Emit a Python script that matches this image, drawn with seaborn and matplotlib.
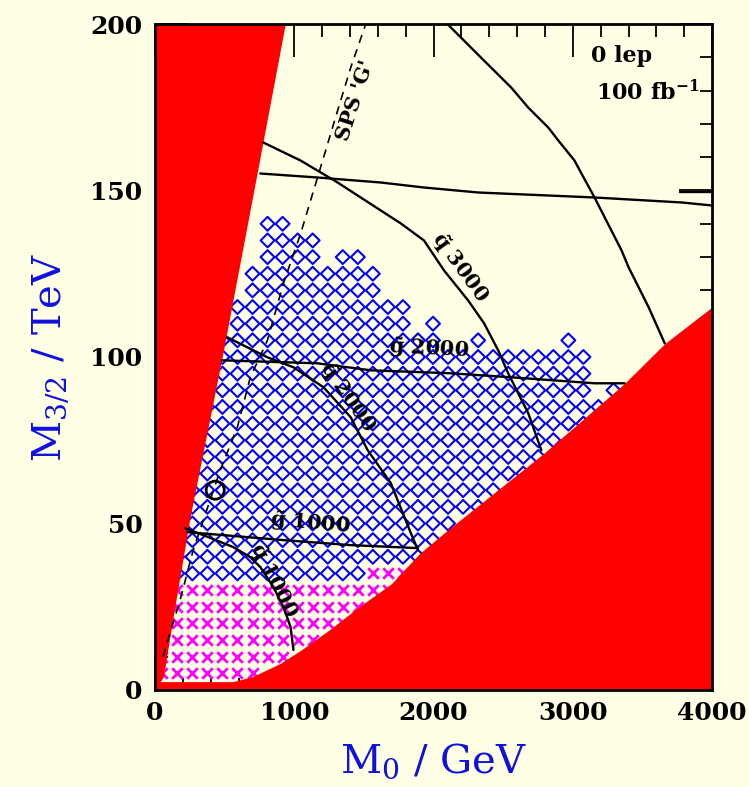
import numpy as np
import pandas as pd
import matplotlib
matplotlib.use("Agg")
import matplotlib.pyplot as plt
import seaborn as sns

# M0 values of the scan grid (GeV)
m0_grid = [52, 160, 268, 376, 484, 592, 700, 808, 916, 1024, 1132, 1240, 1348, 1456,
           1564, 1672, 1780, 1888, 1996, 2104, 2212, 2320, 2428, 2536, 2644, 2752,
           2860, 2968, 3076, 3184, 3292]

# blue scan points: row M3/2 (TeV), first and last M0 of the run (GeV)
blue_m32 = [140, 135, 130, 125, 120, 115, 110, 105, 100, 95, 90, 85, 80, 75, 70,
            65, 60, 55, 50, 45, 40, 35]
blue_first = [808, 808, 808, 700, 700, 592, 592, 484, 484, 484, 484, 376, 376, 376,
              376, 268, 268, 268, 268, 268, 160, 160]
blue_last = [916, 1132, 1132, 1564, 1564, 1672, 1780, 1996, 3076, 3076, 3076, 3184,
             3076, 2860, 2752, 2644, 2428, 2320, 2104, 1996, 1888, 1456]
blue_extra_m0 = [1348, 1456, 1780, 1996, 2320, 2968, 3292]
blue_extra_m32 = [130, 130, 115, 110, 105, 105, 90]

# magenta scan points
mag_m32 = [35, 30, 25, 20, 15, 10, 5]
mag_first = [1564, 160, 160, 160, 160, 52, 52]
mag_last = [1780, 1672, 1456, 1348, 1132, 916, 700]

# excluded (red) regions
left_edge_m32 = [0, 4, 22, 52, 100, 148, 200]
left_edge_m0 = [0, 60, 130, 252, 482, 700, 935]
right_edge_m0 = [0, 560, 700, 900, 1050, 1250, 1450, 1700, 1900, 2130, 2400, 2790,
                 3370, 3660, 4000]
right_edge_m32 = [2.5, 2.5, 4, 8, 12, 18, 24.5, 32, 41, 49, 58, 71, 92, 104, 115]

# squark mass contours
sq1000_m0 = [216, 346, 562, 684, 756, 850, 922, 973, 994]
sq1000_m32 = [48.6, 46.5, 42.9, 39.9, 36.9, 30.9, 24.9, 18.9, 12.0]
sq2000_m0 = [519, 807, 994, 1210, 1405, 1527, 1693, 1837, 1888]
sq2000_m32 = [105.9, 99.9, 96.9, 90.9, 81.9, 72.0, 62.1, 47.1, 42.0]
sq3000_m0 = [778, 1045, 1311, 1621, 1765, 1931, 2075, 2248, 2363, 2464, 2536, 2680, 2774]
sq3000_m32 = [164.4, 159.0, 152.4, 144.0, 140.1, 135.0, 126.0, 117.0, 110.1, 102.0,
              95.1, 83.1, 72.0]
sq4000_m0 = [2104, 2341, 2558, 2680, 2824, 2896, 3012, 3062, 3156, 3350, 3401, 3545, 3660]
sq4000_m32 = [199.8, 189.9, 180.9, 174.9, 168.9, 165.0, 159.0, 155.1, 147.9, 132.0,
              126.9, 114.9, 104.1]

# gluino mass contours
gl1000_m0 = [231, 922, 1405, 1888]
gl1000_m32 = [47.4, 45.0, 43.5, 42.6]
gl2000_m0 = [483, 1167, 1549, 2125, 2558, 3156, 3372]
gl2000_m32 = [99.0, 98.1, 96.0, 95.1, 93.9, 92.1, 92.1]
gl3000_m0 = [756, 1167, 1621, 1931, 2320, 3156, 3782, 3999]
gl3000_m32 = [155.1, 153.9, 152.4, 150.9, 149.4, 147.9, 146.4, 145.5]
stub_m0 = [3768, 4000]
stub_m32 = [149.4, 149.4]

# SPS 'G' slope
sps_m0 = [58, 86, 180, 274, 468, 591, 684, 807, 922, 1045, 1117, 1210, 1311, 1405, 1513]
sps_m32 = [10, 14.1, 27.0, 42.0, 66.0, 78.9, 93.9, 105.0, 122.1, 137.0, 147.0, 159.9,
           174.0, 186.9, 200]
sps_point = (432, 60)


def grid_points(rows, first, last):
    xs, ys = [], []
    for m32, a, b in zip(rows, first, last):
        for m0 in m0_grid:
            if a <= m0 <= b:
                xs.append(m0)
                ys.append(m32)
    return pd.DataFrame({"M0": xs, "M32": ys})


bg = "#FFFFE6"
sns.set_style("ticks")
plt.rcParams["font.family"] = ["DejaVu Serif"]
plt.rcParams["mathtext.default"] = "regular"
plt.rcParams["text.color"] = "black"
plt.rcParams["xtick.labelcolor"] = "black"
plt.rcParams["ytick.labelcolor"] = "black"

fig = plt.figure(figsize=(7.49, 7.87), dpi=100, facecolor=bg)
ax = fig.add_axes([0.207, 0.1233, 0.7437, 0.8462])
ax.set_facecolor(bg)

blue = grid_points(blue_m32, blue_first, blue_last)
blue = pd.concat([blue, pd.DataFrame({"M0": blue_extra_m0, "M32": blue_extra_m32})])
mag = grid_points(mag_m32, mag_first, mag_last)

sns.scatterplot(data=blue, x="M0", y="M32", marker="D", s=50, facecolor="none",
                edgecolor="#0000FF", linewidth=1.5, ax=ax, zorder=2)
sns.scatterplot(data=mag, x="M0", y="M32", marker="x", s=58, color="#FF00FF",
                linewidth=2, ax=ax, zorder=2)

# excluded regions drawn over the scan
ax.fill_betweenx(left_edge_m32, 0, left_edge_m0, color="#FF0000", lw=0, zorder=3)
ax.fill_between(right_edge_m0, 0, right_edge_m32, color="#FF0000", lw=0, zorder=3)

for xs, ys in [(sq1000_m0, sq1000_m32), (sq2000_m0, sq2000_m32),
               (sq3000_m0, sq3000_m32), (sq4000_m0, sq4000_m32),
               (gl1000_m0, gl1000_m32), (gl2000_m0, gl2000_m32),
               (gl3000_m0, gl3000_m32), (stub_m0, stub_m32)]:
    sns.lineplot(x=xs, y=ys, sort=False, estimator=None, color="black", lw=1.7,
                 ax=ax, zorder=4)
sns.lineplot(x=sps_m0, y=sps_m32, sort=False, estimator=None, color="black", lw=1.2,
             ax=ax, zorder=4, linestyle=(0, (5, 4)))
ax.scatter([sps_point[0]], [sps_point[1]], s=170, facecolor="none", edgecolor="black",
           linewidth=2, zorder=5)

lab = dict(fontsize=15, fontweight="bold", color="black", ha="center", va="center",
           rotation_mode="anchor", zorder=6)
ax.text(2190, 127, r"$\tilde{q}$ 3000", rotation=-54, **lab)
ax.text(1380, 88, r"$\tilde{q}$ 2000", rotation=-55, **lab)
ax.text(850, 33, r"$\tilde{q}$ 1000", rotation=-63, **lab)
ax.text(1967, 102.5, r"$\tilde{g}$ 2000", rotation=-3, **lab)
ax.text(1117, 50, r"$\tilde{g}$ 1000", rotation=-5, **lab)
ax.text(1441, 177, "SPS 'G'", rotation=72, **lab)

ax.text(3134, 190.5, "0 lep", fontsize=16, fontweight="bold", va="center", zorder=6)
ax.text(3170, 179.4, "100 fb$^{-1}$", fontsize=16, fontweight="bold", va="center",
        zorder=6)

ax.set_xlim(0, 4000)
ax.set_ylim(0, 200)
ax.set_xticks([0, 1000, 2000, 3000, 4000])
ax.set_yticks([0, 50, 100, 150, 200])
ax.set_xticks(np.arange(0, 4001, 200), minor=True)
ax.set_yticks(np.arange(0, 201, 10), minor=True)
ax.tick_params(which="both", direction="in", top=True, right=True, width=1.3,
               color="black", labelcolor="black")
ax.tick_params(which="major", length=24, labelsize=18)
ax.tick_params(which="minor", length=9)
ax.tick_params(axis="x", pad=8)
ax.tick_params(axis="y", pad=9)
for t in ax.get_xticklabels() + ax.get_yticklabels():
    t.set_fontweight("bold")
for sp in ax.spines.values():
    sp.set_linewidth(2)
    sp.set_color("black")
    sp.set_zorder(7)

ax.set_xlabel("M$_0$ / GeV", fontsize=29, color="#1010E0", labelpad=12)
ax.set_ylabel("M$_{3/2}$ / TeV", fontsize=29, color="#1010E0", labelpad=14)

fig.savefig("out.png", dpi=100, facecolor=bg)
